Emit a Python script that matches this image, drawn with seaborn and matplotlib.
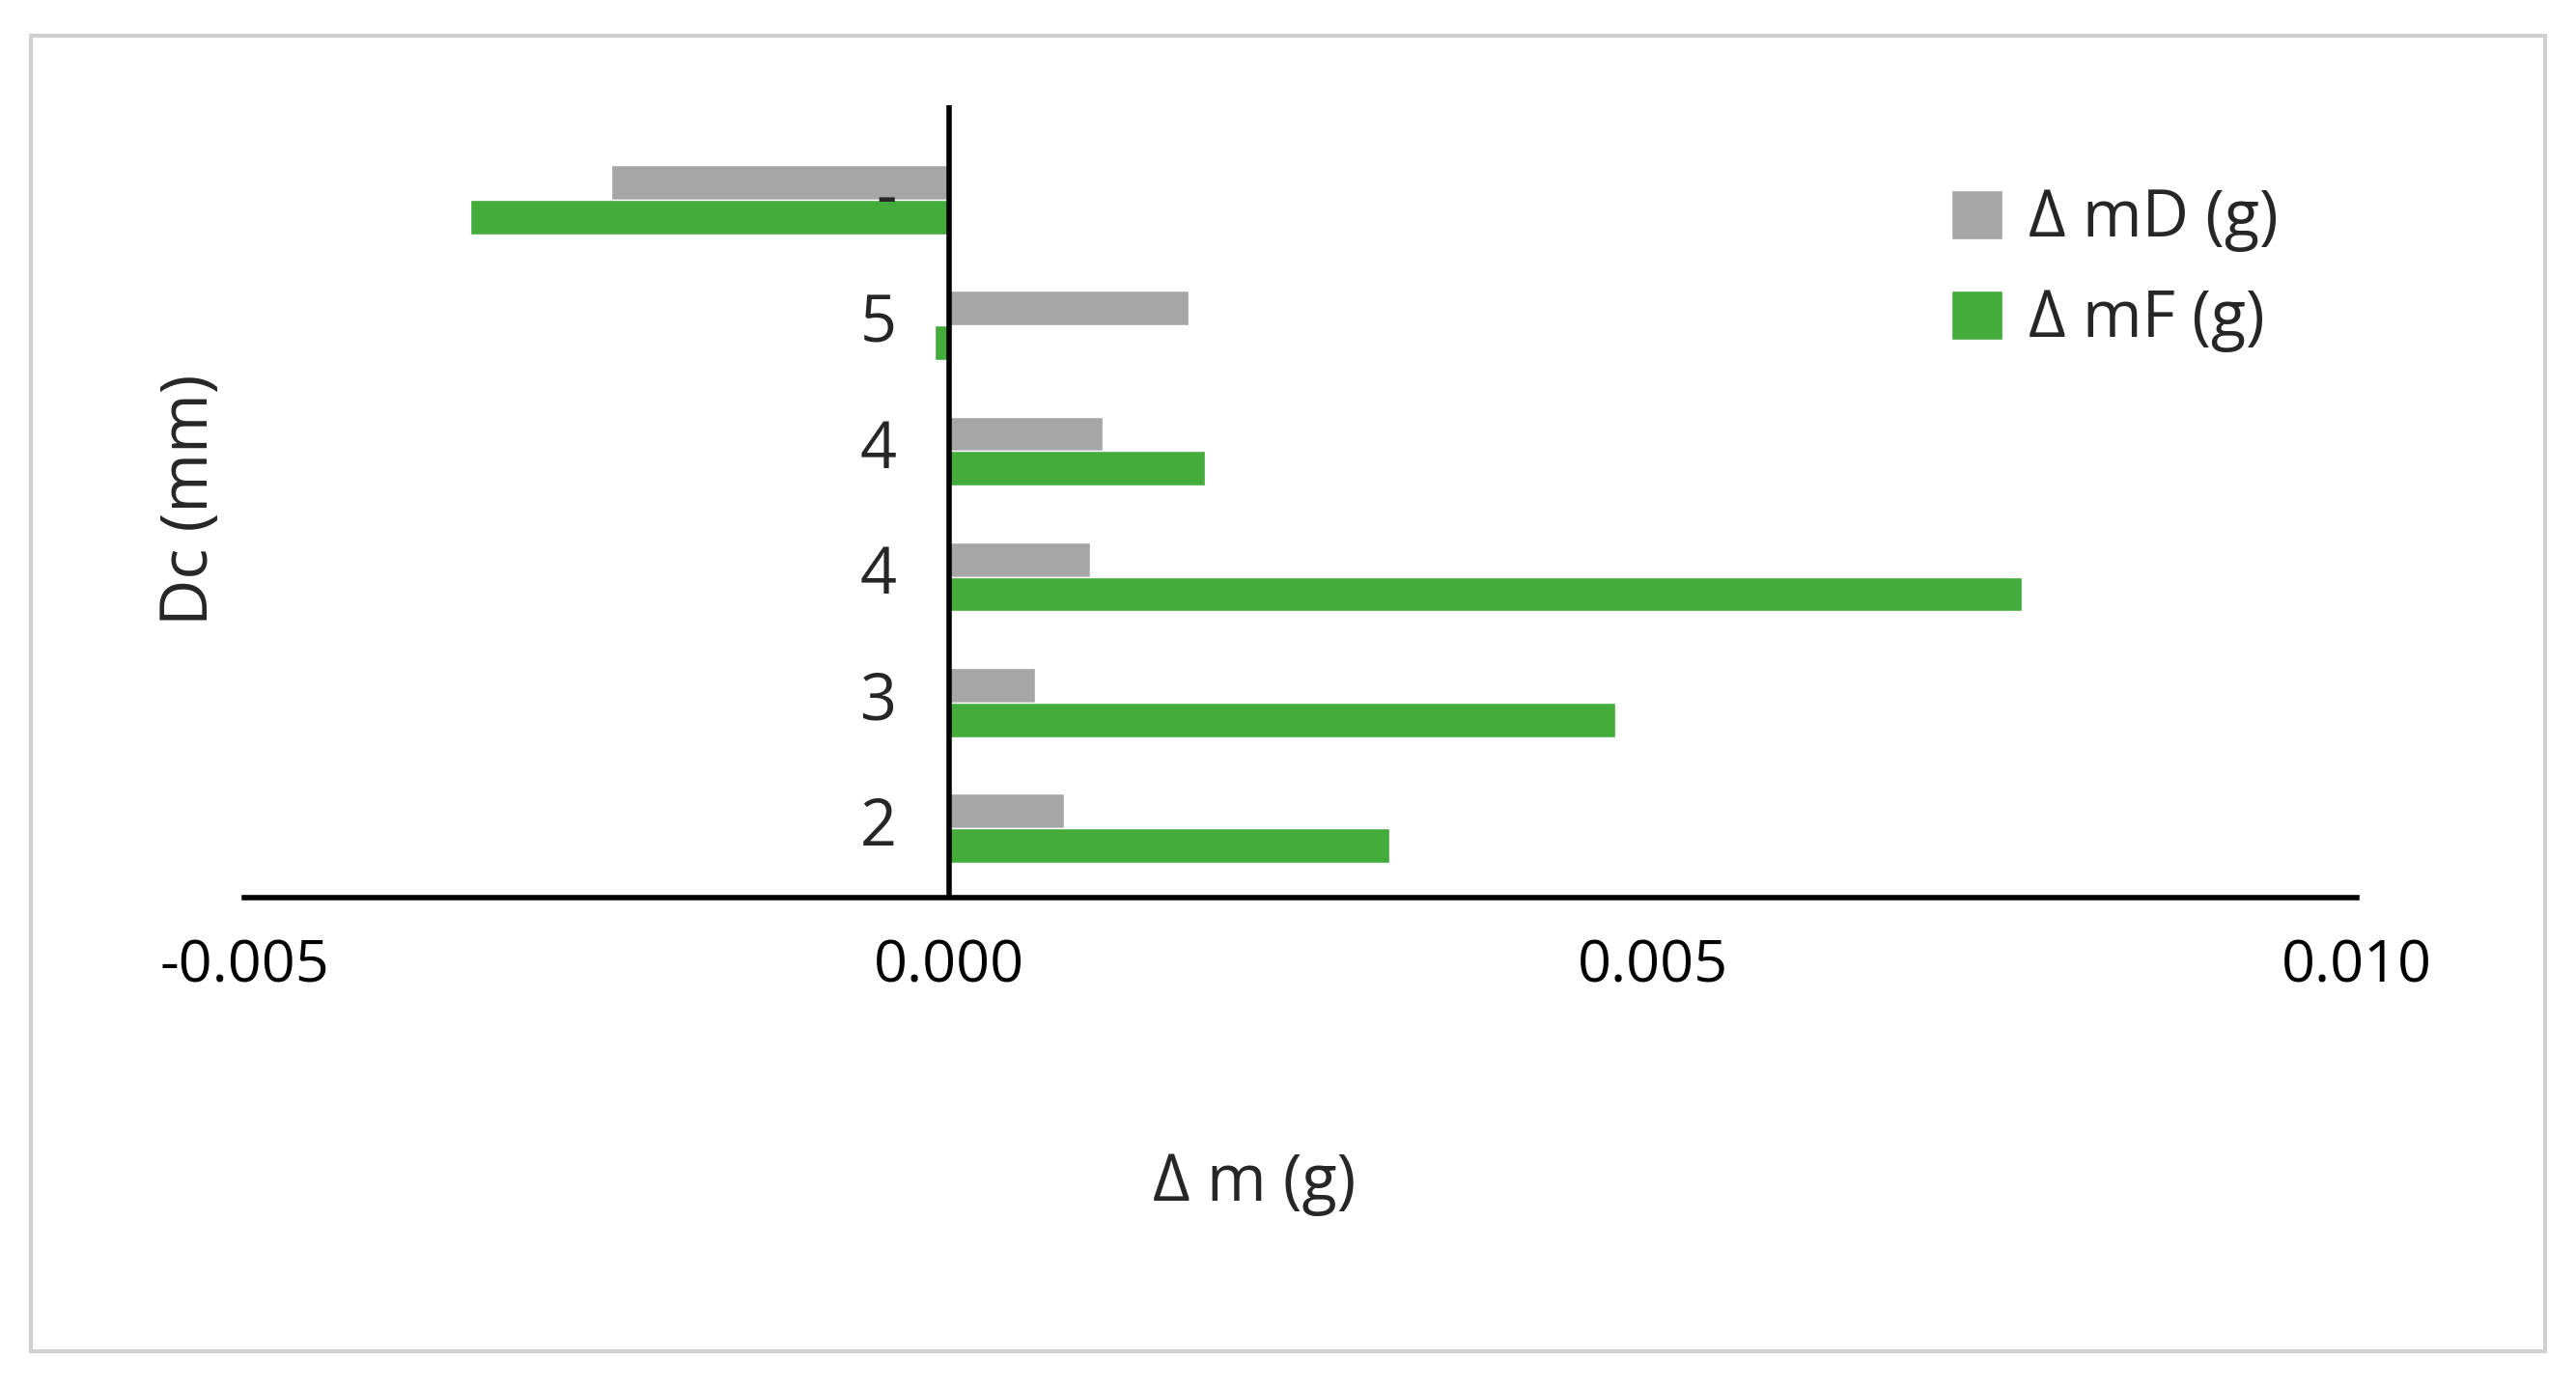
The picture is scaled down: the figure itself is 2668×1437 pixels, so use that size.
import matplotlib
matplotlib.use("Agg")
import matplotlib.pyplot as plt
import seaborn as sns
import pandas as pd
from matplotlib.patches import Rectangle

# categories listed top to bottom as drawn
dc_labels = ["-", "5", "4", "4", "3", "2"]
delta_mD = [-0.0024, 0.0017, 0.00109, 0.0010, 0.00061, 0.00082]
delta_mF = [-0.0034, -0.0001, 0.00182, 0.00762, 0.00473, 0.00313]

slots = [f"r{i}" for i in range(len(dc_labels))]
df = pd.DataFrame({
    "slot": slots * 2,
    "value": delta_mD + delta_mF,
    "series": ["Δ mD (g)"] * len(slots) + ["Δ mF (g)"] * len(slots),
})

sns.set_theme(style="white")
plt.rcParams["font.family"] = ["Open Sans", "DejaVu Sans"]

fig = plt.figure(figsize=(26.68, 14.37), dpi=100)
ax = fig.add_axes([0.095, 0.353, 0.82, 0.571])

sns.barplot(data=df, y="slot", x="value", hue="series", order=slots, orient="h",
            palette={"Δ mD (g)": "#a6a6a6", "Δ mF (g)": "#43ac3b"},
            width=0.55, saturation=1, ax=ax, legend=True)

ax.set_xlim(-0.005, 0.010)
ax.set_ylim(len(slots) - 0.45, -0.75)
ax.set_xticks([-0.005, 0.0, 0.005, 0.010])
ax.set_xticklabels(["-0.005", "0.000", "0.005", "0.010"], fontsize=44)
ax.tick_params(axis="x", direction="in", length=14, width=4, pad=30, colors="black")
ax.set_yticks([])
ax.set_ylabel("")
ax.set_xlabel("")
for s in ["top", "right", "left"]:
    ax.spines[s].set_visible(False)
ax.spines["bottom"].set_linewidth(4)
ax.spines["bottom"].set_color("black")
ax.axvline(0, color="black", lw=4, zorder=5)

# category labels sit next to the zero line
for i, lab in enumerate(dc_labels):
    ax.text(-0.00037, i, lab, ha="right", va="center", fontsize=48,
            transform=ax.transData, zorder=1)

fig.text(0.487, 0.147, "Δ m (g)", ha="center", va="center", fontsize=48)
fig.text(0.074, 0.64, "Dc (mm)", ha="center", va="center", rotation=90, fontsize=48)

leg = ax.legend(loc="upper right", bbox_to_anchor=(0.99, 0.97), frameon=False,
                fontsize=48, handlelength=0.8, handleheight=0.8, handletextpad=0.4,
                labelspacing=0.55)

fig.patches.append(Rectangle((0.012, 0.026), 0.976, 0.948, transform=fig.transFigure,
                             fill=False, edgecolor="#d0d0d0", lw=3))

fig.savefig("out.png", dpi=100, facecolor="white")
